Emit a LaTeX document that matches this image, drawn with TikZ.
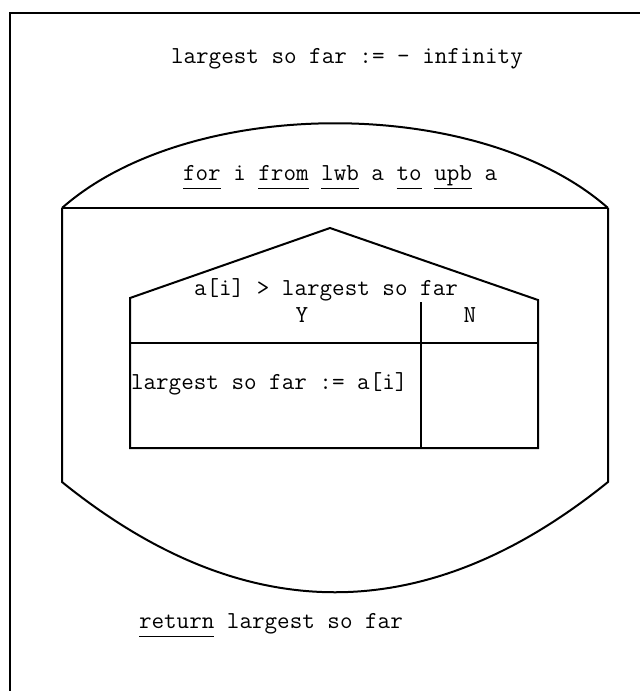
\documentclass[tikz,border=0pt]{standalone}
\usepackage{fontspec}
\newcommand{\kw}[1]{\underline{\vphantom{p}#1}}

\begin{document}
\begin{tikzpicture}[x=0.5pt,y=-0.5pt,line width=1pt,
  txt/.style={anchor=base west,inner sep=0pt,font=\fontsize{12.2}{14}\selectfont\ttfamily}]
  \useasboundingbox (0,0) rectangle (640,691);
  \draw[line width=0.8pt] (640,13)--(10,13)--(10,691);
  \node[txt] (init) at (170,63) {largest so far := - infinity};
  % loop
  \draw (62,208) .. controls (190,95) and (480,95) .. (608,208);
  \draw (62,208)--(608,208);
  \draw (62,208)--(62,482) .. controls (244,629) and (426,629) .. (608,482)--(608,208);
  \node[txt] (loop) at (182,180) {\kw{for} i \kw{from} \kw{lwb} a \kw{to} \kw{upb} a};
  % choice
  \draw (130,448)--(130,298)--(330,228)--(538,300)--(538,448)--cycle;
  \draw (130,343)--(538,343);
  \draw (421,302)--(421,448);
  \node[txt] (cond) at (193,295) {a[i] > largest so far};
  \node[txt,anchor=base] (yes) at (302,322) {Y};
  \node[txt,anchor=base] (no) at (470,322) {N};
  \node[txt] (upd) at (130,389) {largest so far := a[i]};
  \node[txt] (ret) at (138,628) {\kw{return} largest so far};
\end{tikzpicture}
\end{document}
